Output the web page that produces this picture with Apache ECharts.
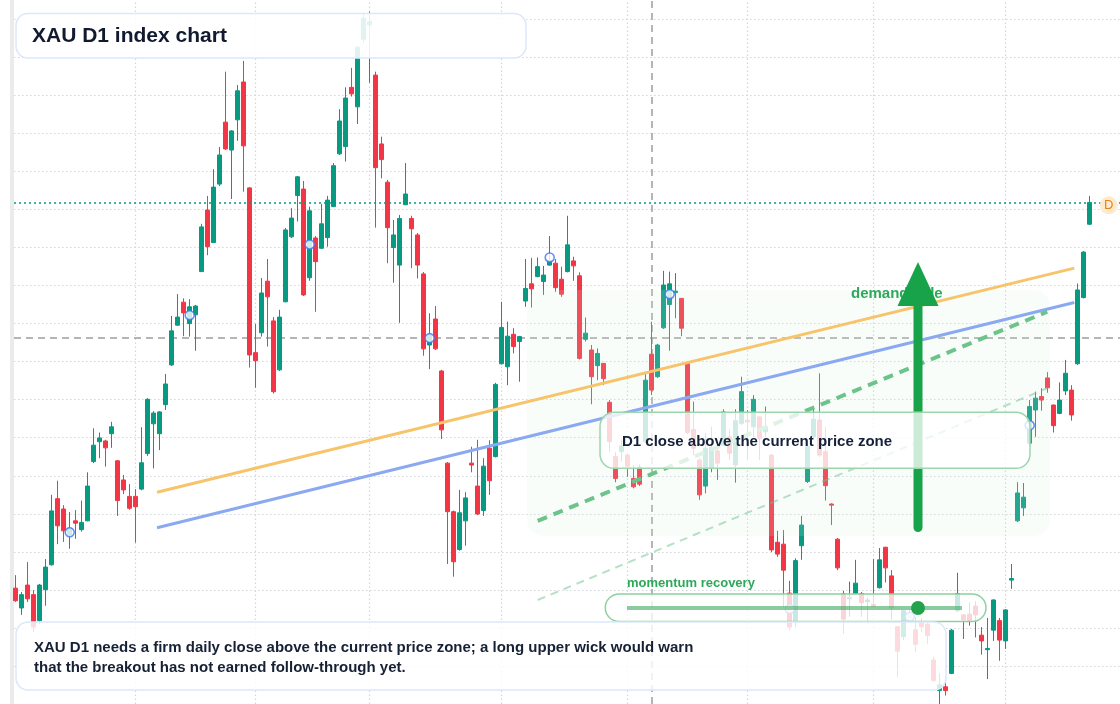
<!DOCTYPE html>
<html>
<head>
<meta charset="utf-8">
<script src="https://cdn.jsdelivr.net/npm/echarts@6/dist/echarts.min.js"></script>
<style>html,body{margin:0;padding:0;background:#fff;}#c{width:1120px;height:704px;}</style>
</head>
<body>
<div id="c"></div>
<script>
// ---- data ----
// daily candles: [open, close, low, high]
const ohlc = [
[2331.2,2327.9,2327.6,2334.6],[2326.0,2329.5,2324.2,2330.2],[2332.0,2328.4,2327.6,2338.0],[2329.5,2321.0,2319.7,2330.7],
[2322.7,2332.0,2321.8,2332.3],[2330.8,2336.7,2326.6,2338.8],[2337.3,2351.4,2337.1,2355.6],[2354.6,2347.5,2342.7,2359.3],
[2351.9,2346.2,2343.3,2352.9],[2345.1,2346.9,2341.5,2351.1],[2348.8,2348.2,2344.1,2351.6],[2346.5,2348.4,2346.0,2354.1],
[2348.8,2357.9,2348.7,2361.5],[2364.3,2368.6,2363.9,2373.0],[2369.5,2370.5,2365.2,2371.9],[2369.7,2367.9,2363.0,2370.0],
[2371.6,2373.4,2367.9,2374.7],[2364.5,2354.1,2350.1,2364.7],[2359.5,2356.9,2355.8,2360.8],[2355.2,2352.1,2351.7,2358.4],
[2355.2,2352.5,2343.1,2357.1],[2357.1,2364.0,2356.8,2373.3],[2366.4,2380.6,2365.8,2380.9],[2374.2,2377.0,2362.5,2377.5],
[2371.6,2377.3,2367.3,2377.5],[2379.2,2384.6,2377.8,2387.2],[2389.6,2398.5,2389.3,2402.4],[2400.0,2402.1,2399.8,2408.1],
[2406.0,2403.2,2397.1,2407.0],[2400.4,2404.8,2397.0,2406.8],[2402.7,2405.0,2393.3,2405.3],[2414.0,2425.7,2413.9,2426.5],
[2430.1,2420.5,2418.3,2433.8],[2421.6,2436.1,2421.5,2440.8],[2436.9,2444.5,2436.4,2446.6],[2453.1,2446.1,2445.8,2466.3],
[2445.8,2450.8,2433.0,2451.0],[2453.7,2461.3,2448.2,2462.8],[2463.6,2446.9,2434.9,2469.1],[2435.9,2392.2,2388.9,2436.1],
[2392.8,2390.7,2383.6,2400.3],[2398.0,2408.4,2397.0,2412.3],[2411.5,2407.4,2394.4,2417.3],[2401.1,2382.6,2382.1,2402.1],
[2388.3,2402.1,2388.0,2404.0],[2406.1,2424.9,2406.0,2425.4],[2423.1,2428.0,2422.8,2430.6],[2433.9,2438.8,2427.1,2439.0],
[2435.6,2407.9,2407.6,2437.7],[2412.4,2429.9,2411.6,2431.0],[2422.8,2416.6,2403.5,2423.3],[2420.1,2426.5,2420.0,2431.7],
[2422.9,2432.7,2420.5,2433.8],[2431.0,2441.7,2430.9,2442.4],[2444.8,2453.4,2444.5,2456.5],[2446.7,2459.4,2442.8,2462.2],
[2462.2,2460.5,2459.8,2467.3],[2457.1,2472.7,2452.6,2473.0],[2474.8,2480.3,2473.7,2481.6],[2478.5,2479.4,2463.4,2482.0],
[2465.4,2441.2,2425.5,2466.3],[2447.4,2443.3,2438.4,2449.3],[2437.4,2425.5,2416.2,2438.0],[2420.3,2423.6,2411.1,2427.5],
[2415.7,2427.9,2400.6,2428.8],[2431.5,2434.3,2431.4,2442.4],[2427.9,2425.2,2414.9,2428.6],[2423.6,2415.7,2412.2,2424.1],
[2413.4,2393.8,2392.0,2413.9],[2394.8,2397.4,2388.5,2403.1],[2401.6,2393.8,2393.5,2405.0],[2388.0,2372.6,2370.2,2388.3],
[2363.9,2351.2,2337.5,2364.2],[2351.2,2338.1,2334.2,2351.5],[2341.3,2350.9,2341.0,2356.9],[2348.8,2354.8,2342.3,2356.3],
[2363.9,2363.4,2361.5,2368.2],[2357.9,2350.6,2350.3,2370.0],[2351.5,2363.1,2350.1,2365.2],[2367.8,2359.3,2355.6,2369.9],
[2365.6,2384.5,2365.4,2384.9],[2389.9,2399.4,2389.7,2406.1],[2389.1,2397.1,2384.3,2400.9],[2397.6,2394.4,2392.6,2399.2],
[2395.7,2397.0,2385.2,2397.2],[2406.3,2409.6,2404.8,2417.3],[2410.8,2409.5,2404.6,2417.6],[2412.7,2415.3,2412.5,2417.7],
[2411.4,2413.1,2407.9,2415.5],[2415.7,2416.9,2415.5,2423.3],[2416.2,2409.8,2408.7,2417.3],[2412.0,2408.1,2407.4,2415.3],
[2414.0,2421.0,2413.8,2428.6],[2416.8,2415.5,2411.6,2417.9],[2412.9,2391.3,2391.0,2413.8],[2396.3,2397.9,2395.7,2402.0],
[2393.5,2386.5,2379.3,2394.8],[2389.4,2392.6,2385.6,2393.9],[2390.0,2386.0,2384.3,2390.1],[2379.8,2369.5,2366.9,2380.4],
[2365.6,2359.9,2358.9,2366.8],[2366.9,2368.4,2364.3,2370.2],[2366.0,2363.1,2360.3,2366.5],[2359.9,2357.7,2357.3,2363.4],
[2362.8,2358.4,2357.9,2363.6],[2369.5,2385.6,2369.2,2387.7],[2392.4,2383.0,2381.7,2400.9],[2386.5,2394.8,2386.2,2395.1],
[2399.3,2410.5,2399.0,2414.2],[2405.4,2410.8,2393.3,2414.0],[2408.5,2408.9,2401.8,2413.6],[2407.0,2399.2,2397.1,2407.1],
[2390.0,2371.9,2371.5,2390.1],[2372.7,2367.8,2366.0,2380.0],[2364.7,2355.6,2354.3,2365.2],[2357.9,2367.8,2356.0,2371.8],
[2362.5,2368.0,2361.5,2373.4],[2367.1,2363.9,2359.5,2368.6],[2368.6,2377.3,2368.4,2378.0],[2370.8,2366.5,2364.7,2372.6],
[2363.4,2375.0,2358.8,2378.0],[2374.3,2382.6,2373.9,2386.5],[2375.1,2374.7,2364.7,2377.8],[2373.4,2380.6,2370.7,2381.7],
[2376.0,2370.4,2364.7,2376.2],[2372.1,2373.4,2370.8,2378.7],[2366.0,2341.2,2340.6,2366.3],[2343.2,2340.1,2339.4,2346.2],
[2342.7,2335.9,2326.2,2346.4],[2329.9,2321.0,2320.2,2333.1],[2322.3,2338.4,2321.0,2339.0],[2342.3,2347.7,2338.6,2350.1],
[2359.1,2368.2,2358.7,2370.0],[2370.8,2375.4,2370.5,2378.7],[2375.2,2366.0,2365.5,2387.4],[2366.9,2358.0,2354.1,2373.4],
[2353.2,2352.9,2347.7,2353.4],[2344.0,2336.5,2335.9,2344.3],[2329.7,2323.1,2319.2,2330.5],[2328.4,2328.7,2323.7,2332.9],
[2329.8,2332.5,2329.6,2338.6],[2329.8,2327.4,2323.7,2330.2],[2327.7,2328.1,2322.0,2328.8],[2326.9,2326.4,2326.3,2338.8],
[2331.3,2338.6,2331.1,2341.7],[2341.9,2336.5,2332.7,2342.0],[2334.4,2326.0,2323.0,2335.9],[2321.1,2314.7,2307.9,2321.3],
[2318.5,2325.3,2317.6,2325.5],[2323.1,2324.4,2322.3,2325.5],[2320.3,2316.5,2314.4,2323.6],[2322.5,2321.1,2319.7,2323.4],
[2321.8,2318.8,2316.6,2322.0],[2312.4,2307.0,2306.8,2313.3],[2304.4,2305.9,2300.9,2308.9],[2305.4,2304.4,2303.1,2307.0],
[2308.9,2320.2,2308.7,2320.5],[2325.3,2329.8,2324.9,2335.2],[2324.2,2322.9,2317.9,2324.4],[2324.4,2322.5,2321.4,2327.5],
[2326.5,2324.2,2318.3,2327.8],[2318.9,2317.4,2313.8,2321.0],[2315.1,2315.4,2307.4,2323.4],[2320.2,2328.1,2317.4,2328.3],
[2322.7,2317.6,2312.2,2323.4],[2317.4,2325.5,2315.3,2325.7],[2333.3,2333.7,2331.0,2337.5],[2348.8,2356.1,2348.5,2358.9],
[2352.2,2355.0,2350.1,2358.7],[2369.1,2378.7,2368.6,2380.4],[2377.8,2380.9,2370.8,2382.6],[2381.3,2380.4,2377.6,2383.5],
[2386.2,2383.6,2382.3,2387.7],[2379.1,2373.7,2371.9,2379.2],[2376.9,2380.4,2376.7,2385.0],[2382.8,2387.4,2381.7,2390.9],
[2383.0,2376.5,2375.0,2384.3],[2389.9,2409.2,2389.6,2410.9],[2407.2,2419.1,2407.0,2419.4],[2426.4,2432.1,2426.2,2433.8]
];
// trading-day categories
const dates = [];
(function () {
  const d = new Date(Date.UTC(2024, 0, 2));
  while (dates.length < ohlc.length) {
    const w = d.getUTCDay();
    if (w !== 0 && w !== 6) dates.push(d.toISOString().slice(0, 10));
    d.setUTCDate(d.getUTCDate() + 1);
  }
})();
// period separators (category indices of the vertical grid lines)
const periodTicks = [20, 40, 59, 81, 102, 122, 143, 165];
// swing markers
const markerIdx = [9, 29, 49, 69, 89, 109, 129, 149, 169];
const markerVal = [2345.8, 2402.6, 2421.1, 2396.6, 2417.7, 2408.1, 2325.7, 2323.7, 2373.8];
// trend lines [index, price]
const orangeTrend = [[23.55, 2356.3], [176.43, 2414.9]];
const blueTrend = [[23.55, 2347.0], [176.43, 2405.9]];
const supportDash = [[87.0, 2348.8], [171.93, 2403.5]];
const lowerDash = [[87.0, 2328.1], [171.93, 2383.5]];
// reference levels
const priceZone = 2396.6;
const signalIdx = 106;
const lastClose = ohlc[ohlc.length - 1][1];
// price grid
const yGridMin = 2300, yGridMax = 2480, yGridStep = 10;

// ---- chart ----
const chart = echarts.init(document.getElementById('c'), null, { renderer: 'canvas' });
const FONT = '"Liberation Sans", Arial, Helvetica, sans-serif';
const dotted = { color: '#d3d6db', type: [1.5, 2.5], width: 1.2 };
const refDash = { color: '#9d9d9d', type: [7, 5], width: 1.5 };

function txt(text, x, y, size, color, weight, z, align) {
  return {
    type: 'text', z: z, silent: true,
    style: {
      text: text, x: x, y: y, fill: color,
      font: (weight || 'bold') + ' ' + size + 'px ' + FONT,
      align: align || 'left', textAlign: align || 'left',
      verticalAlign: 'middle', textVerticalAlign: 'middle'
    }
  };
}

const option = {
  animation: false,
  backgroundColor: '#ffffff',
  grid: [
    { left: 14, right: 0, top: 0, bottom: 0 },
    { left: 14, right: 0, top: 19.3, height: 688.1 }
  ],
  xAxis: [
    { type: 'value', gridIndex: 0, min: -0.2833, max: 184.05, show: false },
    { type: 'value', gridIndex: 1, min: 0, max: 1, show: false }
  ],
  yAxis: [
    { type: 'value', gridIndex: 0, min: 2300.89, max: 2485.05, show: false },
    {
      type: 'value', gridIndex: 1, min: yGridMin, max: yGridMax, interval: yGridStep,
      axisLine: { show: false }, axisTick: { show: false }, axisLabel: { show: false },
      splitLine: { show: true, lineStyle: dotted }
    }
  ],
  series: [
    {
      name: 'XAU D1', type: 'candlestick', xAxisIndex: 0, yAxisIndex: 0, z: 2, clip: false,
      data: ohlc.map((d, i) => [i, d[0], d[1], d[2], d[3]]),
      encode: { x: 0, y: [1, 2, 3, 4] },
      barWidth: 4,
      itemStyle: { color: '#089981', color0: '#F23645', borderColor: '#089981', borderColor0: '#F23645', borderWidth: 1 },
      markLine: {
        silent: true, symbol: ['none', 'none'], z: 1, animation: false, label: { show: false },
        data: periodTicks.map(v => ({ xAxis: v, lineStyle: dotted }))
          .concat([
            { xAxis: signalIdx, lineStyle: refDash },
            { yAxis: priceZone, lineStyle: refDash }
          ])
      }
    },
    {
      name: 'last', type: 'line', xAxisIndex: 0, yAxisIndex: 0, data: [], z: 4,
      markLine: {
        silent: true, symbol: ['none', 'none'], z: 4, animation: false, label: { show: false },
        data: [{ yAxis: lastClose, lineStyle: { color: '#089981', type: [2, 3], width: 1.5 } }]
      }
    },
    {
      name: 'trend A', type: 'line', xAxisIndex: 0, yAxisIndex: 0, z: 4, data: orangeTrend,
      showSymbol: false, symbol: 'none', lineStyle: { color: '#f7c46c', width: 3 }, silent: true
    },
    {
      name: 'trend B', type: 'line', xAxisIndex: 0, yAxisIndex: 0, z: 4, data: blueTrend,
      showSymbol: false, symbol: 'none', lineStyle: { color: '#8aa9f0', width: 3 }, silent: true
    },
    {
      name: 'support', type: 'line', xAxisIndex: 0, yAxisIndex: 0, z: 4, data: supportDash,
      showSymbol: false, symbol: 'none', lineStyle: { color: '#6cc48a', width: 4, type: [10, 7] }, silent: true
    },
    {
      name: 'lower', type: 'line', xAxisIndex: 0, yAxisIndex: 0, z: 4, data: lowerDash,
      showSymbol: false, symbol: 'none', lineStyle: { color: 'rgba(108,196,138,0.5)', width: 2, type: [8, 6] }, silent: true
    },
    {
      name: 'swings', type: 'scatter', xAxisIndex: 0, yAxisIndex: 0, z: 4,
      data: markerIdx.map((x, k) => [x, markerVal[k]]),
      symbol: 'circle', symbolSize: 9,
      itemStyle: { color: '#ffffff', borderColor: '#3d74f2', borderWidth: 1.6 }
    }
  ],
  graphic: [
    { type: 'rect', z: 0, silent: true, shape: { x: 10, y: 0, width: 4, height: 704 }, style: { fill: '#ebebeb' } },
    // demand zone
    { type: 'rect', z: 3, silent: true, shape: { x: 527, y: 290, width: 523, height: 246, r: 16 }, style: { fill: 'rgba(215,240,222,0.15)' } },
    txt('demand side', 851, 293.5, 15, '#2ea85a', 'bold', 5),
    // arrow
    { type: 'line', z: 6, silent: true, shape: { x1: 918, y1: 527.5, x2: 918, y2: 300 }, style: { stroke: '#18a34a', lineWidth: 9, lineCap: 'round' } },
    { type: 'polygon', z: 6, silent: true, shape: { points: [[918, 262], [897.5, 306], [938.5, 306]] }, style: { fill: '#18a34a' } },
    // signal box
    { type: 'rect', z: 10, silent: true, shape: { x: 600, y: 412.3, width: 430, height: 56, r: 14 }, style: { fill: 'rgba(255,255,255,0.78)', stroke: '#9dd5ad', lineWidth: 1.5 } },
    txt('D1 close above the current price zone', 622, 442.3, 15, '#15203a', 'bold', 11),
    // momentum pill
    txt('momentum recovery', 627, 583, 13, '#2ea85a', 'bold', 11),
    { type: 'rect', z: 10, silent: true, shape: { x: 605.3, y: 594, width: 380.7, height: 27.5, r: 13.75 }, style: { fill: 'rgba(255,255,255,0.78)', stroke: '#8fd0a0', lineWidth: 1.5 } },
    { type: 'line', z: 11, silent: true, shape: { x1: 627, y1: 608, x2: 962, y2: 608 }, style: { stroke: 'rgba(60,170,95,0.6)', lineWidth: 4 } },
    { type: 'circle', z: 12, silent: true, shape: { cx: 918, cy: 608, r: 7 }, style: { fill: '#23a24b' } },
    // bottom note
    { type: 'rect', z: 10, silent: true, shape: { x: 16, y: 622, width: 930, height: 68, r: 12 }, style: { fill: 'rgba(255,255,255,0.82)', stroke: '#dbe7fb', lineWidth: 1.5 } },
    txt('XAU D1 needs a firm daily close above the current price zone; a long upper wick would warn', 34, 648.3, 15, '#172135', 'bold', 11),
    txt('that the breakout has not earned follow-through yet.', 34, 668.3, 15, '#172135', 'bold', 11),
    // title
    { type: 'rect', z: 10, silent: true, shape: { x: 16, y: 13.5, width: 510, height: 44.5, r: 12 }, style: { fill: 'rgba(255,255,255,0.88)', stroke: '#dbe7fb', lineWidth: 1.5 } },
    txt('XAU D1 index chart', 32, 36, 21, '#111a2e', 'bold', 11),
    // last price badge
    { type: 'circle', z: 11, silent: true, shape: { cx: 1108.8, cy: 205.3, r: 9 }, style: { fill: '#fdeacf' } },
    txt('D', 1108.8, 205.8, 13, '#f07f0c', 'normal', 12, 'center')
  ]
};
chart.setOption(option);
</script>
</body>
</html>
